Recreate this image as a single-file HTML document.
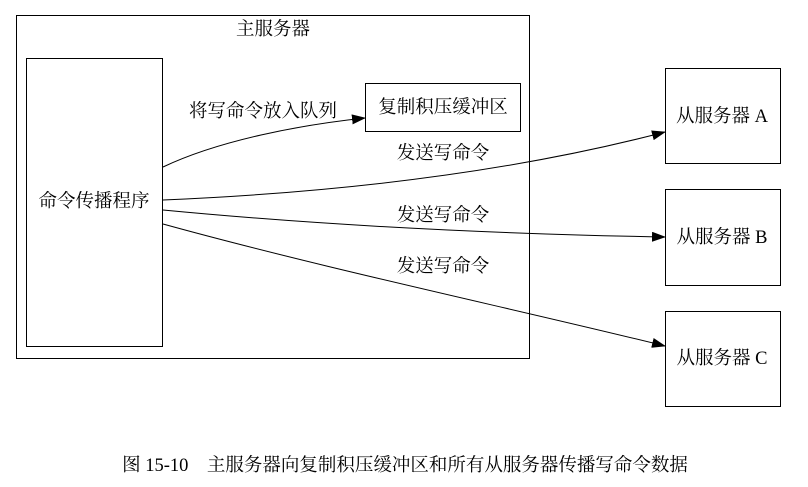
<!DOCTYPE html>
<html><head><meta charset="utf-8"><style>
html,body{margin:0;padding:0;background:#fff;}
svg{display:block;}
text{font-family:"Liberation Serif","Noto Serif CJK SC","Noto Sans CJK SC",serif;font-size:18.5px;fill:#000;}
</style></head><body>
<svg width="808" height="487" viewBox="0 0 808 487" xmlns="http://www.w3.org/2000/svg">
<defs><marker id="a" markerWidth="14" markerHeight="10" refX="13" refY="5" orient="auto" markerUnits="userSpaceOnUse"><path d="M0,0 L14,5 L0,10 Z" fill="#000"/></marker></defs>
<g fill="none" stroke="#000" stroke-width="1">
<rect x="16.5" y="15.5" width="513" height="343"/>
<rect x="26.5" y="58.5" width="136" height="288"/>
<rect x="365.5" y="83.5" width="155" height="48"/>
<rect x="665.5" y="68.5" width="115" height="95"/>
<rect x="665.5" y="189.5" width="115" height="96"/>
<rect x="665.5" y="311.5" width="115" height="95"/>
<path d="M163,167 C220,140 300,125 365,118" marker-end="url(#a)"/>
<path d="M163,200 C350,192 520,170 665,132" marker-end="url(#a)"/>
<path d="M163,210 C330,226 500,234 665,237" marker-end="url(#a)"/>
<path d="M163,224 C330,270 520,310 665,346" marker-end="url(#a)"/>
</g>
<text x="273" y="35" text-anchor="middle">主服务器</text>
<text x="94" y="207" text-anchor="middle">命令传播程序</text>
<text x="443" y="113" text-anchor="middle">复制积压缓冲区</text>
<text x="263" y="117" text-anchor="middle">将写命令放入队列</text>
<text x="443" y="159" text-anchor="middle">发送写命令</text>
<text x="443" y="221" text-anchor="middle">发送写命令</text>
<text x="443" y="272" text-anchor="middle">发送写命令</text>
<text x="722" y="122" text-anchor="middle">从服务器 A</text>
<text x="722" y="243" text-anchor="middle">从服务器 B</text>
<text x="722" y="364" text-anchor="middle">从服务器 C</text>
<text x="405" y="471" text-anchor="middle">图 15-10　主服务器向复制积压缓冲区和所有从服务器传播写命令数据</text>
</svg>
</body></html>
